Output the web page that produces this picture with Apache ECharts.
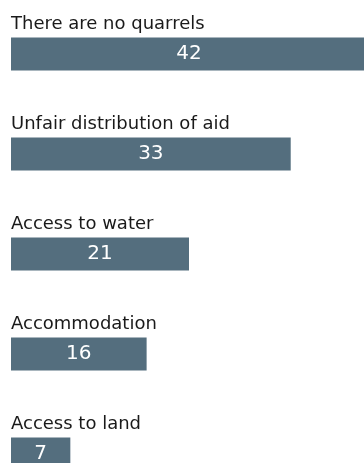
<!DOCTYPE html>
<html>
<head>
<meta charset="utf-8">
<style>
  html, body { margin: 0; padding: 0; background: #fff; }
  #chart { width: 364px; height: 463px; }
</style>
<script src="https://cdn.jsdelivr.net/npm/echarts@6/dist/echarts.min.js"></script>
</head>
<body>
<div id="chart"></div>
<script>
// Reasons for disputes, counts per answer
const categories = [
  'There are no quarrels',
  'Unfair distribution of aid',
  'Access to water',
  'Accommodation',
  'Access to land'
];
const values = [42, 33, 21, 16, 7];

const chart = echarts.init(document.getElementById('chart'), null, { renderer: 'canvas' });

const fontFamily = '"DejaVu Sans", sans-serif';

chart.setOption({
  animation: false,
  // the plot area runs past the bottom and right edges, so the last bar is cut
  grid: {
    left: 11, top: 4, width: 356, height: 500,
    containLabel: false,
    outerBoundsMode: 'none'
  },
  xAxis: {
    type: 'value',
    min: 0,
    max: 42,
    show: false
  },
  yAxis: {
    type: 'category',
    data: categories,
    inverse: true,
    axisLine: { show: false },
    axisTick: { show: false },
    splitLine: { show: false },
    axisLabel: {
      inside: true,
      margin: 0,
      align: 'left',
      verticalAlign: 'bottom',
      padding: [0, 0, 21, 0],
      color: '#1a1a1a',
      fontSize: 18,
      fontFamily: fontFamily
    },
    z: 10
  },
  series: [{
    type: 'bar',
    data: values,
    barWidth: 33,
    clip: false,
    itemStyle: { color: '#546e7e' },
    label: {
      show: true,
      position: 'inside',
      color: '#ffffff',
      fontSize: 20,
      fontFamily: fontFamily
    }
  }]
});
</script>
</body>
</html>
